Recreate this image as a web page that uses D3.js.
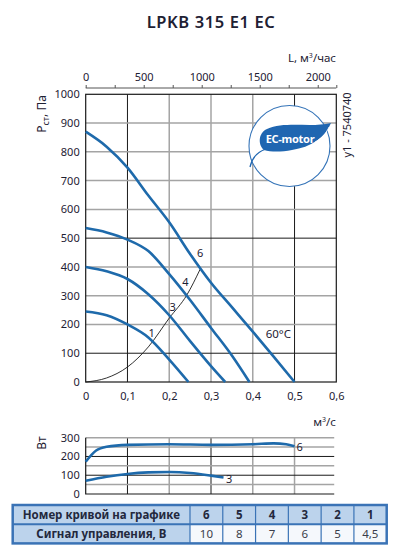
<!DOCTYPE html>
<html lang="ru">
  <head>
    <meta charset="utf-8" />
    <title>LPKB 315 E1 EC</title>
    <script src="https://d3js.org/d3.v7.min.js"></script>
    <style type="text/css">
      body {
        margin: 0;
        background: #fff;
      }
      text {
        font-family: "Noto Sans", sans-serif;
        fill: #1e2133;
      }
      .tick text {
        font-size: 11px;
      }
    </style>
  </head>
  <body>
    <script type="text/javascript">
      const w = 399;
      const h = 555;

      // Pressure curves (Q in m3/s, P in Pa)
      const curve6Q = [0, 0.05, 0.1, 0.15, 0.2, 0.25, 0.3, 0.35, 0.4, 0.45, 0.5];
      const curve6P = [870, 818, 745, 648, 555, 445, 345, 260, 175, 88, 0];
      const curve4Q = [0, 0.05, 0.1, 0.15, 0.2, 0.25, 0.3, 0.35, 0.392];
      const curve4P = [535, 520, 495, 455, 375, 285, 188, 92, 0];
      const curve3Q = [0, 0.05, 0.1, 0.15, 0.2, 0.25, 0.3, 0.334];
      const curve3P = [400, 385, 358, 305, 232, 142, 55, 0];
      const curve1Q = [0, 0.05, 0.1, 0.15, 0.2, 0.246];
      const curve1P = [245, 232, 200, 155, 78, 0];

      // System resistance line
      const systemQ = [0, 0.05, 0.1, 0.15, 0.2, 0.242, 0.274];
      const systemP = [0, 14, 52, 122, 222, 302, 392];

      // Curve number labels
      const labelText = ["6", "4", "3", "1"];
      const labelQ = [0.274, 0.239, 0.208, 0.158];
      const labelP = [449, 346, 260, 169];

      // Power curves (W)
      const power6Q = [0, 0.025, 0.05, 0.1, 0.2, 0.3, 0.4, 0.45, 0.48, 0.5];
      const power6W = [172, 232, 252, 262, 265, 262, 265, 270, 265, 255];
      const power3Q = [0, 0.05, 0.1, 0.15, 0.2, 0.25, 0.3, 0.33];
      const power3W = [70, 92, 107, 115, 117, 112, 98, 88];

      // Axis ticks
      const qTicks = [0, 0.1, 0.2, 0.3, 0.4, 0.5, 0.6];
      const pTicks = [0, 100, 200, 300, 400, 500, 600, 700, 800, 900, 1000];
      const lTicks = [0, 500, 1000, 1500, 2000];
      const wTicks = [0, 100, 200, 300];

      // Table
      const rowTitles = ["Номер кривой на графике", "Сигнал управления, В"];
      const curveNumbers = ["6", "5", "4", "3", "2", "1"];
      const signals = ["10", "8", "7", "6", "5", "4,5"];

      const blue = "#1e6aab";
      const gray = "#a4a4a4";
      const dark = "#1a1a1a";
      const fmt = (d) => String(d).replace(".", ",");

      const svg = d3
        .select("body")
        .append("svg")
        .attr("width", w)
        .attr("height", h);

      // Title
      svg
        .append("text")
        .attr("x", 211)
        .attr("y", 28)
        .attr("text-anchor", "middle")
        .style("font-size", "16.5px")
        .style("font-weight", "600")
        .style("letter-spacing", "0.6px")
        .text("LPKB 315 E1 EC");

      // Scales
      const x = d3.scaleLinear().domain([0, 0.6]).range([85.7, 336.3]);
      const y = d3.scaleLinear().domain([0, 1000]).range([382, 94.3]);
      const xTop = d3.scaleLinear().domain([0, 2160]).range([85.7, 336.3]);
      const yW = d3.scaleLinear().domain([0, 300]).range([494, 437.7]);

      // Grid of main chart
      const darkQ = [0.1, 0.5];
      const darkP = [100, 500];
      const grid = svg.append("g");
      grid
        .selectAll("line.v")
        .data(qTicks.slice(1, -1))
        .enter()
        .append("line")
        .attr("x1", (d) => x(d))
        .attr("x2", (d) => x(d))
        .attr("y1", y(0))
        .attr("y2", y(1000))
        .attr("stroke", (d) => (darkQ.includes(d) ? dark : gray))
        .attr("stroke-width", (d) => (darkQ.includes(d) ? 1 : 1.5));
      grid
        .selectAll("line.h")
        .data(pTicks.slice(1, -1))
        .enter()
        .append("line")
        .attr("x1", x(0))
        .attr("x2", x(0.6))
        .attr("y1", (d) => y(d))
        .attr("y2", (d) => y(d))
        .attr("stroke", (d) => (darkP.includes(d) ? dark : gray))
        .attr("stroke-width", (d) => (darkP.includes(d) ? 1 : 1.5));
      grid
        .append("rect")
        .attr("x", x(0))
        .attr("y", y(1000))
        .attr("width", x(0.6) - x(0))
        .attr("height", y(0) - y(1000))
        .attr("fill", "none")
        .attr("stroke", dark)
        .attr("stroke-width", 1.2);

      // Axes
      svg
        .append("g")
        .attr("transform", "translate(0," + (y(0) + 2) + ")")
        .call(
          d3.axisBottom(x).tickValues(qTicks).tickSize(0).tickPadding(8).tickFormat(fmt)
        )
        .call((g) => g.select(".domain").remove());
      svg
        .append("g")
        .attr("transform", "translate(" + (x(0) - 2) + ",0)")
        .call(
          d3.axisLeft(y).tickValues(pTicks).tickSize(0).tickPadding(4).tickFormat((d) => d)
        )
        .call((g) => g.select(".domain").remove());

      const topAxis = svg.append("g").attr("transform", "translate(0,88)");
      topAxis
        .call(
          d3
            .axisTop(xTop)
            .tickValues(d3.range(0, 2160, 250).concat([2160]))
            .tickSize(3)
            .tickPadding(4)
            .tickFormat((d) => (lTicks.includes(d) ? d : ""))
        )
        .call((g) => g.select(".domain").attr("d", "M" + x(0) + ",0H" + x(0.6)).attr("stroke", "#555"))
        .call((g) => g.selectAll(".tick line").attr("stroke", "#555"));

      // Axis titles
      const lTitle = svg
        .append("text")
        .attr("x", 336)
        .attr("y", 62)
        .attr("text-anchor", "end")
        .style("font-size", "11.5px");
      lTitle.append("tspan").text("L, м");
      lTitle.append("tspan").attr("dy", -4).style("font-size", "7px").text("3");
      lTitle.append("tspan").attr("dy", 4).text("/час");

      const qTitle = svg
        .append("text")
        .attr("x", 336)
        .attr("y", 426)
        .attr("text-anchor", "end")
        .style("font-size", "11.5px");
      qTitle.append("tspan").text("м");
      qTitle.append("tspan").attr("dy", -4).style("font-size", "7px").text("3");
      qTitle.append("tspan").attr("dy", 4).text("/с");

      const pTitle = svg
        .append("text")
        .attr("transform", "translate(46,114) rotate(-90)")
        .attr("text-anchor", "middle")
        .style("font-size", "12px");
      pTitle.append("tspan").text("P");
      pTitle.append("tspan").attr("dy", 3).style("font-size", "9px").text("ст");
      pTitle.append("tspan").attr("dy", -3).text(", Па");

      svg
        .append("text")
        .attr("transform", "translate(350.5,125) rotate(-90)")
        .attr("text-anchor", "middle")
        .style("font-size", "11px")
        .text("у1 - 7540740");

      // EC-motor logo
      const logo = svg.append("g");
      logo
        .append("circle")
        .attr("cx", 289.5)
        .attr("cy", 146)
        .attr("r", 40.5)
        .attr("fill", "#fff")
        .attr("stroke", "#3574b8")
        .attr("stroke-width", 1.1);
      logo
        .append("path")
        .attr(
          "d",
          "M264,150 C258,145 258,133 267,129 C285,121 311,128 331,123 C325,138 311,147 292,150 C281,152 271,152 264,150 Z"
        )
        .attr("fill", "#1f66b1");
      logo
        .append("path")
        .attr("d", "M250,167 C252,158 257,152 266,149")
        .attr("fill", "none")
        .attr("stroke", "#1f66b1")
        .attr("stroke-width", 1.3);
      logo
        .append("path")
        .attr("d", "M315,142 C321,139 326,134 329,127")
        .attr("fill", "none")
        .attr("stroke", "#fff")
        .attr("stroke-width", 0.8);
      logo
        .append("text")
        .attr("x", 290)
        .attr("y", 143)
        .attr("text-anchor", "middle")
        .style("font-size", "11px")
        .style("font-weight", "700")
        .style("fill", "#fff")
        .style("letter-spacing", "-0.3px")
        .text("EC-motor");

      // Curves
      const line = d3
        .line()
        .x((d) => x(d[0]))
        .curve(d3.curveMonotoneX);
      const zip = (a, b) => a.map((v, i) => [v, b[i]]);

      svg
        .append("path")
        .attr("d", line.y((d) => y(d[1]))(zip(systemQ, systemP)))
        .attr("fill", "none")
        .attr("stroke", dark)
        .attr("stroke-width", 0.9);

      const pressureCurves = [
        zip(curve6Q, curve6P),
        zip(curve4Q, curve4P),
        zip(curve3Q, curve3P),
        zip(curve1Q, curve1P)
      ];
      svg
        .selectAll("path.pc")
        .data(pressureCurves)
        .enter()
        .append("path")
        .attr("class", "pc")
        .attr("d", (d) => line.y((p) => y(p[1]))(d))
        .attr("fill", "none")
        .attr("stroke", blue)
        .attr("stroke-width", 2.6);

      svg
        .selectAll("text.cl")
        .data(labelText)
        .enter()
        .append("text")
        .attr("class", "cl")
        .attr("x", (d, i) => x(labelQ[i]))
        .attr("y", (d, i) => y(labelP[i]))
        .attr("dy", "0.35em")
        .attr("text-anchor", "middle")
        .style("font-size", "11px")
        .text((d) => d);

      svg
        .append("text")
        .attr("x", x(0.431))
        .attr("y", 338)
        .style("font-size", "11.5px")
        .text("60°C");

      // Power chart
      const darkWQ = [0.1, 0.3];
      const darkW = [100, 200];
      const pg = svg.append("g");
      pg.selectAll("line.v")
        .data([0.1, 0.2, 0.3, 0.4, 0.5])
        .enter()
        .append("line")
        .attr("x1", (d) => x(d))
        .attr("x2", (d) => x(d))
        .attr("y1", yW(0))
        .attr("y2", yW(300))
        .attr("stroke", (d) => (darkWQ.includes(d) ? dark : gray))
        .attr("stroke-width", (d) => (darkWQ.includes(d) ? 1 : 1.5));
      pg.selectAll("line.h")
        .data([50, 100, 150, 200, 250, 300])
        .enter()
        .append("line")
        .attr("x1", x(0))
        .attr("x2", x(0.595))
        .attr("y1", (d) => yW(d))
        .attr("y2", (d) => yW(d))
        .attr("stroke", (d) => (darkW.includes(d) ? dark : gray))
        .attr("stroke-width", (d) => (darkW.includes(d) ? 1 : 1.5));
      pg.append("path")
        .attr("d", "M" + x(0) + "," + yW(300) + "V" + yW(0) + "H" + x(0.595))
        .attr("fill", "none")
        .attr("stroke", dark)
        .attr("stroke-width", 1.2);

      svg
        .append("g")
        .attr("transform", "translate(" + (x(0) - 2) + ",0)")
        .call(d3.axisLeft(yW).tickValues(wTicks).tickSize(0).tickPadding(4))
        .call((g) => g.select(".domain").remove());

      svg
        .append("text")
        .attr("transform", "translate(46,443) rotate(-90)")
        .attr("text-anchor", "middle")
        .style("font-size", "12px")
        .text("Вт");

      const powerCurves = [zip(power6Q, power6W), zip(power3Q, power3W)];
      svg
        .selectAll("path.wc")
        .data(powerCurves)
        .enter()
        .append("path")
        .attr("class", "wc")
        .attr("d", (d) => line.y((p) => yW(p[1]))(d))
        .attr("fill", "none")
        .attr("stroke", blue)
        .attr("stroke-width", 2.6);

      const powerLabels = ["6", "3"];
      const powerLabelQ = [0.505, 0.336];
      const powerLabelW = [249, 78];
      svg
        .selectAll("text.wl")
        .data(powerLabels)
        .enter()
        .append("text")
        .attr("class", "wl")
        .attr("x", (d, i) => x(powerLabelQ[i]))
        .attr("y", (d, i) => yW(powerLabelW[i]))
        .attr("dy", "0.35em")
        .style("font-size", "11px")
        .text((d) => d);

      // Table
      const tx = 12.7;
      const tw = 374;
      const ty = 505;
      const rh = 19.2;
      const labelW = 177.3;
      const cw = (tw - labelW) / curveNumbers.length;
      const table = svg.append("g");

      table
        .append("rect")
        .attr("x", tx)
        .attr("y", ty)
        .attr("width", tw)
        .attr("height", rh)
        .attr("fill", "#bcd3ec");
      table
        .append("rect")
        .attr("x", tx)
        .attr("y", ty + rh)
        .attr("width", labelW)
        .attr("height", rh)
        .attr("fill", "#bcd3ec");
      table
        .append("rect")
        .attr("x", tx + labelW)
        .attr("y", ty + rh)
        .attr("width", tw - labelW)
        .attr("height", rh)
        .attr("fill", "#f5f8fc");

      // vertical separators
      table
        .selectAll("line.sep")
        .data(d3.range(curveNumbers.length))
        .enter()
        .append("line")
        .attr("x1", (d) => tx + labelW + d * cw)
        .attr("x2", (d) => tx + labelW + d * cw)
        .attr("y1", ty)
        .attr("y2", ty + 2 * rh)
        .attr("stroke", "#3a73b6")
        .attr("stroke-width", 1.2);
      table
        .append("line")
        .attr("x1", tx)
        .attr("x2", tx + tw)
        .attr("y1", ty + rh)
        .attr("y2", ty + rh)
        .attr("stroke", "#3a73b6")
        .attr("stroke-width", 2);
      table
        .append("rect")
        .attr("x", tx)
        .attr("y", ty)
        .attr("width", tw)
        .attr("height", 2 * rh)
        .attr("fill", "none")
        .attr("stroke", "#3a73b6")
        .attr("stroke-width", 2.5);

      table
        .selectAll("text.rt")
        .data(rowTitles)
        .enter()
        .append("text")
        .attr("x", tx + labelW / 2)
        .attr("y", (d, i) => ty + rh * i + rh / 2)
        .attr("dy", "0.35em")
        .attr("text-anchor", "middle")
        .style("font-size", "11.5px")
        .style("font-weight", "700")
        .style("fill", "#23283d")
        .text((d) => d);
      table
        .selectAll("text.cn")
        .data(curveNumbers)
        .enter()
        .append("text")
        .attr("x", (d, i) => tx + labelW + cw * i + cw / 2)
        .attr("y", ty + rh / 2)
        .attr("dy", "0.35em")
        .attr("text-anchor", "middle")
        .style("font-size", "11.5px")
        .style("font-weight", "700")
        .style("fill", "#23283d")
        .text((d) => d);
      table
        .selectAll("text.sg")
        .data(signals)
        .enter()
        .append("text")
        .attr("x", (d, i) => tx + labelW + cw * i + cw / 2)
        .attr("y", ty + rh + rh / 2)
        .attr("dy", "0.35em")
        .attr("text-anchor", "middle")
        .style("font-size", "11.5px")
        .style("fill", "#3a3d4a")
        .text((d) => d);
    </script>
  </body>
</html>
